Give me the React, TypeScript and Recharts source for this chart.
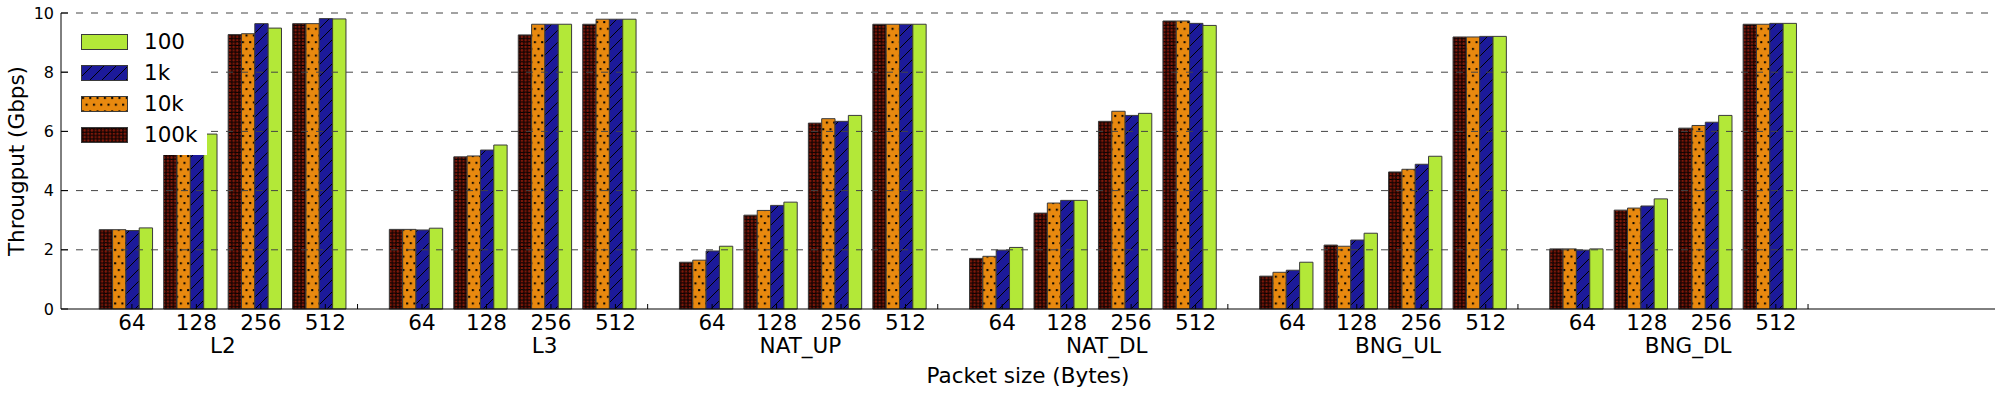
import { Bar, BarChart, XAxis, YAxis, ReferenceLine } from "recharts"

const categories = ["L2", "L3", "NAT_UP", "NAT_DL", "BNG_UL", "BNG_DL"]
const packetSizes = ["64", "128", "256", "512"]

// throughput (Gbps), ordered category by category, 64/128/256/512 inside each
const thr100k = [2.68, 5.3, 9.27, 9.64, 2.69, 5.14, 9.26, 9.62, 1.58, 3.17, 6.28, 9.62, 1.71, 3.24, 6.34, 9.73, 1.11, 2.16, 4.63, 9.19, 2.03, 3.34, 6.11, 9.62]
const thr10k = [2.68, 5.3, 9.3, 9.64, 2.69, 5.17, 9.62, 9.79, 1.65, 3.33, 6.43, 9.62, 1.78, 3.58, 6.68, 9.73, 1.24, 2.12, 4.72, 9.19, 2.03, 3.41, 6.2, 9.62]
const thr1k = [2.65, 5.3, 9.64, 9.81, 2.67, 5.37, 9.62, 9.79, 1.96, 3.5, 6.34, 9.62, 1.99, 3.67, 6.54, 9.65, 1.31, 2.33, 4.89, 9.21, 1.99, 3.48, 6.31, 9.65]
const thr100 = [2.74, 5.91, 9.49, 9.8, 2.73, 5.54, 9.62, 9.79, 2.12, 3.61, 6.54, 9.62, 2.08, 3.67, 6.61, 9.58, 1.58, 2.56, 5.16, 9.21, 2.03, 3.72, 6.54, 9.65]

const yTicks = [0, 2, 4, 6, 8, 10]
const gridLines = [2, 4, 6, 8, 10]

// layout on the x axis (slot units)
const catStep = 4.5
const catLabelPos = [2.51, 7.5, 11.47, 16.22, 20.74, 25.24]

const FONT = "DejaVu Sans, sans-serif"
const BIG = 21.5

const data = categories.flatMap((cat, c) =>
  packetSizes.map((size, i) => {
    const k = c * packetSizes.length + i
    return {
      x: c * catStep + i + 1,
      cat,
      size,
      t100k: thr100k[k],
      t10k: thr10k[k],
      t1k: thr1k[k],
      t100: thr100[k],
    }
  })
)

const tickInfo = new Map<string, { kind: string; label: string }>()
data.forEach((d) => tickInfo.set((d.x + 0.1).toFixed(3), { kind: "size", label: d.size }))
categories.forEach((cat, c) => {
  tickInfo.set((c * catStep + 4.6).toFixed(3), { kind: "sep", label: "" })
  tickInfo.set(catLabelPos[c].toFixed(3), { kind: "cat", label: cat })
})
const xTicks = Array.from(tickInfo.keys()).map(Number).sort((a, b) => a - b)

const series = [
  { key: "t100k", name: "100k", fill: "url(#pat100k)" },
  { key: "t10k", name: "10k", fill: "url(#pat10k)" },
  { key: "t1k", name: "1k", fill: "url(#pat1k)" },
  { key: "t100", name: "100", fill: "#b3e838" },
]

function Patterns() {
  return (
    <svg width={0} height={0} style={{ position: "absolute" }}>
      <defs>
        <pattern id="pat100k" width={7.3} height={6.7} patternUnits="userSpaceOnUse">
          <rect width={7.3} height={6.7} fill="#80180a" />
          <circle cx={3.65} cy={3.35} r={2} fill="none" stroke="#000" strokeWidth={1} />
          <circle cx={0} cy={0} r={2} fill="none" stroke="#000" strokeWidth={1} />
          <circle cx={7.3} cy={0} r={2} fill="none" stroke="#000" strokeWidth={1} />
          <circle cx={0} cy={6.7} r={2} fill="none" stroke="#000" strokeWidth={1} />
          <circle cx={7.3} cy={6.7} r={2} fill="none" stroke="#000" strokeWidth={1} />
        </pattern>
        <pattern id="pat10k" width={7.3} height={13.4} patternUnits="userSpaceOnUse">
          <rect width={7.3} height={13.4} fill="#e8890f" />
          <rect x={1} y={1} width={2} height={2} fill="#000" />
          <rect x={4.65} y={7.7} width={2} height={2} fill="#000" />
        </pattern>
        <pattern id="pat1k" width={12} height={12} patternUnits="userSpaceOnUse">
          <rect width={12} height={12} fill="#1c1a9a" />
          <path d="M0,12 L12,0 M-3,3 L3,-3 M9,15 L15,9" stroke="#000" strokeWidth={1} />
        </pattern>
      </defs>
    </svg>
  )
}

function YTick(props: any) {
  const { x, y, payload } = props
  return (
    <g>
      <line x1={x} x2={x + 7} y1={y} y2={y} stroke="#000" />
      <text x={x - 7} y={y} dy="0.35em" textAnchor="end" fontSize={16} fontFamily={FONT} fill="#000">
        {payload.value}
      </text>
    </g>
  )
}

function XTick(props: any) {
  const { x, y, payload } = props
  const t = tickInfo.get(Number(payload.value).toFixed(3))
  if (!t) return null
  if (t.kind === "cat") {
    return (
      <text x={x} y={y + 44} textAnchor="middle" fontSize={BIG} fontFamily={FONT} fill="#000">
        {t.label}
      </text>
    )
  }
  return (
    <g>
      <line x1={x} x2={x} y1={y} y2={y - 5} stroke="#000" />
      {t.kind === "size" && (
        <text x={x} y={y + 21} textAnchor="middle" fontSize={BIG} fontFamily={FONT} fill="#000">
          {t.label}
        </text>
      )}
    </g>
  )
}

function LegendBox() {
  const rows = [...series].reverse()
  return (
    <div
      style={{
        position: "absolute",
        left: 71,
        top: 23,
        width: 136,
        height: 132,
        background: "#fff",
        fontFamily: FONT,
        fontSize: BIG,
      }}
    >
      {rows.map((s, i) => (
        <div key={s.key} style={{ position: "absolute", left: 0, top: 3.5 + i * 31, height: 31, width: 136 }}>
          <svg width={48} height={17} style={{ position: "absolute", left: 9.5, top: 7 }}>
            <rect x={0.5} y={0.5} width={46} height={15} fill={s.fill} stroke="#3a3a3a" strokeWidth={1} />
          </svg>
          <span style={{ position: "absolute", left: 73, top: 2, lineHeight: "26px", color: "#000" }}>{s.name}</span>
        </div>
      ))}
    </div>
  )
}

export default function App() {
  return (
    <div style={{ position: "absolute", left: 0, top: 0, width: 2000, height: 400, background: "#fff" }}>
      <Patterns />
      <BarChart
        width={2000}
        height={400}
        data={data}
        margin={{ top: 13, right: 5, left: 0, bottom: 0 }}
        barGap={0}
        style={{ fontFamily: FONT }}
      >
        <XAxis
          dataKey="x"
          type="number"
          domain={[0, 30]}
          allowDataOverflow
          ticks={xTicks}
          interval={0}
          height={91}
          tickSize={0}
          tickMargin={0}
          tickLine={false}
          axisLine={{ stroke: "#000", strokeWidth: 1 }}
          tick={<XTick />}
          label={{
            content: () => (
              <text x={1028} y={383} textAnchor="middle" fontSize={BIG} fontFamily={FONT} fill="#000">
                Packet size (Bytes)
              </text>
            ),
          }}
        />
        <YAxis
          type="number"
          domain={[0, 10]}
          ticks={yTicks}
          interval={0}
          width={61}
          tickSize={0}
          tickMargin={0}
          tickLine={false}
          axisLine={{ stroke: "#000", strokeWidth: 1 }}
          tick={<YTick />}
          label={{
            content: () => (
              <text
                x={16}
                y={161}
                transform="rotate(-90, 16, 161)"
                textAnchor="middle"
                dominantBaseline="central"
                fontSize={BIG}
                fontFamily={FONT}
                fill="#000"
              >
                Througput (Gbps)
              </text>
            ),
          }}
        />
        {series.map((s) => (
          <Bar
            key={s.key}
            dataKey={s.key}
            name={s.name}
            fill={s.fill}
            stroke="#3a3a3a"
            strokeWidth={1}
            barSize={13.33}
            isAnimationActive={false}
          />
        ))}
        {gridLines.map((v) => (
          <ReferenceLine key={v} y={v} stroke="#444" strokeWidth={1} strokeDasharray="7 8" />
        ))}
      </BarChart>
      <LegendBox />
    </div>
  )
}
